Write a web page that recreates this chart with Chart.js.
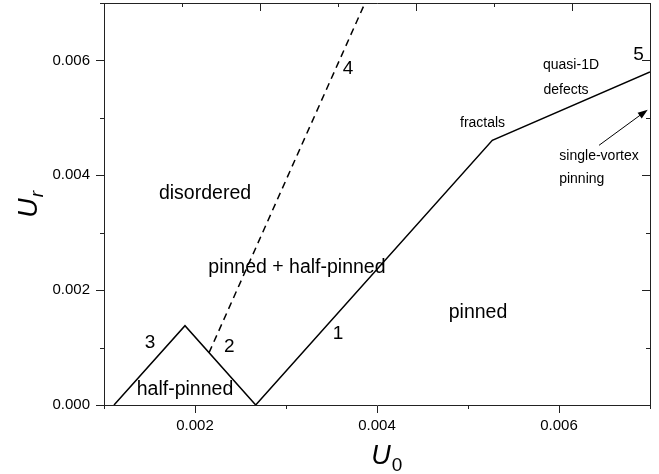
<!DOCTYPE html>
<html>
<head>
<meta charset="utf-8">
<script src="https://cdn.jsdelivr.net/npm/chart.js@4"></script>
<style>
  html, body { margin: 0; padding: 0; background: #fff; }
  #wrap { width: 659px; height: 474px; }
</style>
</head>
<body>
<div id="wrap"><canvas id="c" width="659" height="474"></canvas></div>
<script>
// Phase boundaries in the (U0, Ur) plane
const boundaryU0 = [0.00111, 0.00189, 0.002667, 0.005267, 0.007];
const boundaryUr = [0, 0.00138, 0, 0.00461, 0.0058];
// Dashed boundary (line 4)
const dashedU0 = [0.002154, 0.003868];
const dashedUr = [0.00091, 0.007];

// Tick values
const xMajorTicks = [0.002, 0.004, 0.006];
const xMinorTicks = [0.001, 0.003, 0.005, 0.007];
const yMajorTicks = [0, 0.002, 0.004, 0.006];
const yMinorTicks = [0.001, 0.003, 0.005, 0.007];
// Unlabelled top axis (0..7)
const topMajorTicks = [2, 4, 6];
const topMinorTicks = [1, 3, 5, 7];

// Text labels placed in data coordinates
const labelText = ['disordered', 'pinned + half-pinned', 'pinned', 'half-pinned',
  '3', '2', '1', '4', '5', 'quasi-1D', 'defects', 'fractals', 'single-vortex', 'pinning'];
const labelU0 = [0.00211, 0.00312, 0.00511, 0.00189, 0.001505, 0.002377, 0.003571,
  0.003681, 0.006874, 0.006132, 0.006077, 0.00516, 0.00644, 0.00625];
const labelUr = [0.003687, 0.0024, 0.001617, 0.000261, 0.001078, 0.001009, 0.001235,
  0.005861, 0.006104, 0.005913, 0.005478, 0.004904, 0.00433, 0.00393];
const labelSize = [19.5, 19.5, 19.5, 19.5, 19, 19, 19, 19, 19, 14, 14, 14, 14, 14];

// Arrow pointing to the single-vortex pinning line
const arrowU0 = [0.00644, 0.006975];
const arrowUr = [0.004522, 0.005143];

const FONT = '"Liberation Sans", Arial, Helvetica, sans-serif';
const AXIS = '#222';

const toPts = (xs, ys) => xs.map((x, i) => ({ x: x, y: ys[i] }));

const decorations = {
  id: 'decorations',
  afterDraw(chart) {
    const { ctx, chartArea: a, scales: { x, y, xTop } } = chart;
    ctx.save();
    // frame top and right
    ctx.strokeStyle = AXIS;
    ctx.lineWidth = 1;
    ctx.beginPath();
    ctx.moveTo(a.left, a.top + 0.5);
    ctx.lineTo(a.right + 0.5, a.top + 0.5);
    ctx.lineTo(a.right + 0.5, a.bottom);
    ctx.stroke();

    ctx.beginPath();
    // minor ticks, outward on left/bottom
    xMinorTicks.forEach(v => {
      const px = Math.round(x.getPixelForValue(v)) + 0.5;
      ctx.moveTo(px, a.bottom); ctx.lineTo(px, a.bottom + 4);
    });
    yMinorTicks.forEach(v => {
      const py = Math.round(y.getPixelForValue(v)) + 0.5;
      ctx.moveTo(a.left, py); ctx.lineTo(a.left - 4, py);
    });
    // mirrored inward ticks on right
    yMajorTicks.forEach(v => {
      const py = Math.round(y.getPixelForValue(v)) + 0.5;
      ctx.moveTo(a.right, py); ctx.lineTo(a.right - 8, py);
    });
    yMinorTicks.forEach(v => {
      const py = Math.round(y.getPixelForValue(v)) + 0.5;
      ctx.moveTo(a.right, py); ctx.lineTo(a.right - 4, py);
    });
    // inward ticks on the top axis
    topMajorTicks.forEach(v => {
      const px = Math.round(xTop.getPixelForValue(v)) + 0.5;
      ctx.moveTo(px, a.top); ctx.lineTo(px, a.top + 8);
    });
    topMinorTicks.forEach(v => {
      const px = Math.round(xTop.getPixelForValue(v)) + 0.5;
      ctx.moveTo(px, a.top); ctx.lineTo(px, a.top + 4);
    });
    ctx.stroke();

    // region and line labels
    ctx.fillStyle = '#000';
    ctx.textAlign = 'center';
    ctx.textBaseline = 'middle';
    labelText.forEach((t, i) => {
      ctx.font = labelSize[i] + 'px ' + FONT;
      ctx.fillText(t, x.getPixelForValue(labelU0[i]), y.getPixelForValue(labelUr[i]));
    });

    // arrow
    const x0 = x.getPixelForValue(arrowU0[0]), y0 = y.getPixelForValue(arrowUr[0]);
    const x1 = x.getPixelForValue(arrowU0[1]), y1 = y.getPixelForValue(arrowUr[1]);
    const ang = Math.atan2(y1 - y0, x1 - x0);
    ctx.strokeStyle = '#000';
    ctx.lineWidth = 1;
    ctx.beginPath();
    ctx.moveTo(x0, y0);
    ctx.lineTo(x1 - 8 * Math.cos(ang), y1 - 8 * Math.sin(ang));
    ctx.stroke();
    ctx.beginPath();
    ctx.moveTo(x1, y1);
    ctx.lineTo(x1 - 10 * Math.cos(ang) + 3.5 * Math.sin(ang), y1 - 10 * Math.sin(ang) - 3.5 * Math.cos(ang));
    ctx.lineTo(x1 - 10 * Math.cos(ang) - 3.5 * Math.sin(ang), y1 - 10 * Math.sin(ang) + 3.5 * Math.cos(ang));
    ctx.closePath();
    ctx.fill();

    // axis titles with subscripts
    ctx.textAlign = 'left';
    ctx.textBaseline = 'alphabetic';
    // x title: U0
    ctx.font = 'italic 27px ' + FONT;
    const uw = ctx.measureText('U').width;
    const xt = (a.left + a.right) / 2 + 10;
    ctx.fillText('U', xt - uw / 2 - 6, 464);
    ctx.font = '19px ' + FONT;
    ctx.fillText('0', xt + uw / 2 - 5, 471);
    // y title: Ur (rotated)
    ctx.translate(37, 204);
    ctx.rotate(-Math.PI / 2);
    ctx.font = 'italic 27px ' + FONT;
    ctx.fillText('U', -uw / 2 - 4, 0);
    ctx.font = 'italic 19px ' + FONT;
    ctx.fillText('r', uw / 2 - 3, 6);
    ctx.restore();
  }
};

new Chart(document.getElementById('c'), {
  type: 'scatter',
  data: {
    datasets: [
      {
        data: toPts(boundaryU0, boundaryUr),
        showLine: true,
        borderColor: '#000',
        borderWidth: 1.5,
        pointRadius: 0,
        fill: false
      },
      {
        data: toPts(dashedU0, dashedUr),
        showLine: true,
        borderColor: '#000',
        borderWidth: 1.5,
        borderDash: [7, 5],
        pointRadius: 0,
        fill: false
      }
    ]
  },
  options: {
    responsive: false,
    animation: false,
    events: [],
    layout: { padding: { top: 3, right: 9, left: 0, bottom: 0 } },
    plugins: { legend: { display: false }, tooltip: { enabled: false } },
    scales: {
      x: {
        type: 'linear',
        min: 0.001,
        max: 0.007,
        afterBuildTicks: s => { s.ticks = xMajorTicks.map(v => ({ value: v })); },
        afterFit: s => { s.height = 69; s.paddingLeft = 0; s.paddingRight = 0; },
        border: { display: true, color: AXIS, width: 1 },
        grid: { display: true, drawOnChartArea: false, drawTicks: true, tickLength: 8, color: AXIS },
        ticks: {
          padding: 4,
          color: '#000',
          font: { family: FONT, size: 15 },
          callback: v => v.toFixed(3)
        }
      },
      xTop: {
        type: 'linear',
        position: 'top',
        min: 0,
        max: 7,
        afterFit: s => { s.height = 0; s.paddingLeft = 0; s.paddingRight = 0; },
        border: { display: false },
        grid: { display: false },
        ticks: { display: false }
      },
      y: {
        type: 'linear',
        min: 0,
        max: 0.007,
        afterBuildTicks: s => { s.ticks = yMajorTicks.map(v => ({ value: v })); },
        afterFit: s => { s.width = 104; s.paddingTop = 0; s.paddingBottom = 0; },
        border: { display: true, color: AXIS, width: 1 },
        grid: { display: true, drawOnChartArea: false, drawTicks: true, tickLength: 8, color: AXIS },
        ticks: {
          padding: 6,
          color: '#000',
          font: { family: FONT, size: 15 },
          callback: v => v.toFixed(3)
        }
      }
    }
  },
  plugins: [decorations]
});
</script>
</body>
</html>
